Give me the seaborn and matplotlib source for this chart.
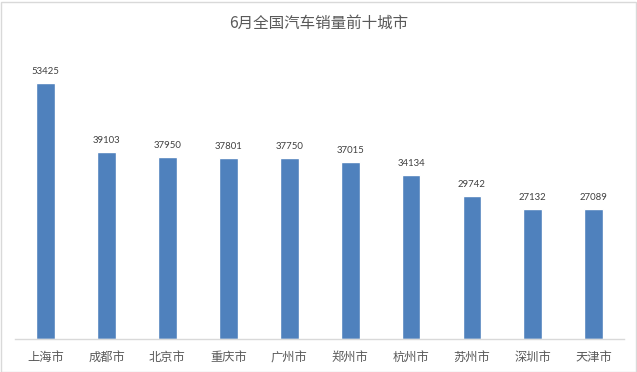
import matplotlib
matplotlib.use("Agg")
import matplotlib.pyplot as plt
import seaborn as sns
import pandas as pd

cities = ["上海市", "成都市", "北京市", "重庆市", "广州市", "郑州市", "杭州市", "苏州市", "深圳市", "天津市"]
sales = [53425, 39103, 37950, 37801, 37750, 37015, 34134, 29742, 27132, 27089]
title = "6月全国汽车销量前十城市"

sns.set_theme(style="white")
plt.rcParams['font.family'] = ['Noto Sans CJK SC', 'DejaVu Sans']

df = pd.DataFrame({"city": cities, "sales": sales})

fig = plt.figure(figsize=(6.37, 3.72), dpi=100)
ax = fig.add_axes([15.2 / 637, (372 - 339) / 372, 609 / 637, (339 - 52) / 372])
sns.barplot(data=df, x="city", y="sales", color="#4F81BD", width=0.31, ax=ax, saturation=1)

px = 53425 / 256
ax.set_ylim(0, 287 * px)
ax.set_xlim(-0.5, len(cities) - 0.5)
for i, v in enumerate(sales):
    ax.text(i, v + 9 * px, str(v), ha="center", va="baseline", fontsize=6.9,
            color="#404040", family=["Lato", "DejaVu Sans"])

ax.set_xlabel("")
ax.set_ylabel("")
ax.set_yticks([])
ax.tick_params(axis="x", length=0, labelsize=8.8, labelcolor="#595959", pad=16)
for lab in ax.get_xticklabels():
    lab.set_verticalalignment("baseline")
for s in ["top", "right", "left"]:
    ax.spines[s].set_visible(False)
ax.spines["bottom"].set_color("#D9D9D9")
ax.spines["bottom"].set_linewidth(1)

fig.text(0.5, 1 - 28 / 372, title, ha="center", va="baseline", fontsize=11.2, color="#595959")

border = plt.Rectangle((0.5 / 637, 0.5 / 372), 635 / 637, 370 / 372, transform=fig.transFigure,
                       fill=False, edgecolor="#D9D9D9", linewidth=1)
fig.patches.append(border)

fig.savefig("out.png", dpi=100)
